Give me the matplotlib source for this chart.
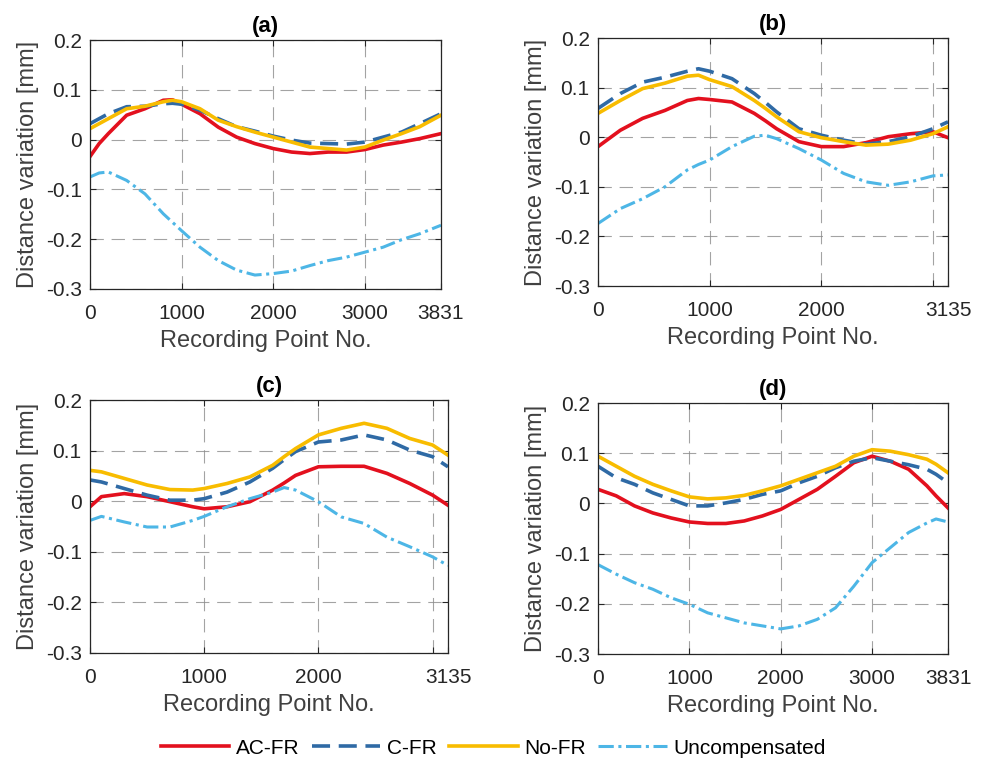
import matplotlib
matplotlib.use("Agg")
import matplotlib.pyplot as plt

plt.rcParams['font.family'] = ['Liberation Sans', 'DejaVu Sans']

# ---------------- data ----------------
x_a = [0, 100, 200, 400, 600, 800, 900, 1000, 1200, 1400, 1600, 1800, 2000, 2200, 2400, 2600, 2800, 3000, 3200, 3400, 3600, 3831]
acfr_a = [-0.034, -0.008, 0.012, 0.049, 0.062, 0.079, 0.080, 0.071, 0.052, 0.025, 0.005, -0.008, -0.018, -0.025, -0.028, -0.025, -0.025, -0.020, -0.011, -0.005, 0.002, 0.012]
cfr_a = [0.032, 0.042, 0.052, 0.066, 0.067, 0.072, 0.073, 0.071, 0.059, 0.042, 0.026, 0.017, 0.007, -0.001, -0.007, -0.008, -0.009, -0.005, 0.005, 0.015, 0.032, 0.052]
nofr_a = [0.022, 0.032, 0.042, 0.062, 0.067, 0.076, 0.079, 0.076, 0.062, 0.039, 0.026, 0.015, 0.005, -0.005, -0.015, -0.018, -0.021, -0.015, -0.001, 0.012, 0.026, 0.049]
unc_a = [-0.075, -0.067, -0.065, -0.082, -0.109, -0.149, -0.166, -0.183, -0.216, -0.243, -0.262, -0.272, -0.269, -0.264, -0.253, -0.243, -0.236, -0.226, -0.216, -0.201, -0.189, -0.172]

x_b = [0, 200, 400, 600, 800, 900, 1000, 1200, 1400, 1500, 1600, 1800, 2000, 2200, 2400, 2600, 2800, 3000, 3135]
acfr_b = [-0.019, 0.014, 0.038, 0.054, 0.074, 0.078, 0.076, 0.071, 0.048, 0.033, 0.017, -0.009, -0.019, -0.019, -0.011, 0.001, 0.007, 0.011, -0.001]
cfr_b = [0.058, 0.088, 0.111, 0.121, 0.133, 0.138, 0.133, 0.118, 0.088, 0.070, 0.051, 0.017, 0.004, -0.006, -0.014, -0.009, 0.001, 0.017, 0.031]
nofr_b = [0.048, 0.074, 0.098, 0.109, 0.123, 0.125, 0.116, 0.102, 0.074, 0.058, 0.041, 0.011, -0.001, -0.009, -0.016, -0.014, -0.006, 0.007, 0.021]
unc_b = [-0.174, -0.144, -0.124, -0.100, -0.066, -0.055, -0.046, -0.019, 0.002, 0.004, -0.003, -0.023, -0.046, -0.073, -0.090, -0.097, -0.090, -0.078, -0.076]

x_c = [0, 100, 300, 500, 700, 900, 1000, 1200, 1400, 1600, 1700, 1800, 2000, 2200, 2400, 2600, 2800, 3000, 3135]
acfr_c = [-0.011, 0.009, 0.015, 0.009, -0.001, -0.011, -0.015, -0.011, -0.001, 0.022, 0.036, 0.051, 0.068, 0.069, 0.069, 0.055, 0.035, 0.012, -0.008]
cfr_c = [0.042, 0.038, 0.025, 0.012, 0.002, 0.002, 0.005, 0.018, 0.038, 0.065, 0.082, 0.098, 0.117, 0.121, 0.131, 0.121, 0.101, 0.088, 0.068]
nofr_c = [0.061, 0.058, 0.045, 0.032, 0.023, 0.022, 0.025, 0.035, 0.048, 0.071, 0.088, 0.104, 0.131, 0.144, 0.154, 0.144, 0.124, 0.111, 0.091]
unc_c = [-0.038, -0.030, -0.041, -0.051, -0.051, -0.038, -0.030, -0.011, 0.005, 0.018, 0.027, 0.022, -0.001, -0.031, -0.044, -0.071, -0.090, -0.110, -0.127]

x_d = [0, 200, 400, 600, 800, 1000, 1200, 1400, 1600, 1800, 2000, 2200, 2400, 2600, 2800, 3000, 3200, 3400, 3600, 3700, 3831]
acfr_d = [0.028, 0.015, -0.005, -0.019, -0.029, -0.037, -0.040, -0.040, -0.035, -0.025, -0.012, 0.008, 0.028, 0.054, 0.081, 0.094, 0.084, 0.068, 0.035, 0.015, -0.009]
cfr_d = [0.074, 0.051, 0.038, 0.021, 0.008, -0.005, -0.005, 0.001, 0.008, 0.018, 0.025, 0.041, 0.054, 0.071, 0.084, 0.091, 0.084, 0.077, 0.068, 0.058, 0.041]
nofr_d = [0.094, 0.074, 0.054, 0.038, 0.025, 0.013, 0.009, 0.011, 0.016, 0.025, 0.035, 0.048, 0.061, 0.074, 0.094, 0.107, 0.104, 0.097, 0.088, 0.078, 0.061]
unc_d = [-0.122, -0.141, -0.158, -0.171, -0.188, -0.201, -0.218, -0.228, -0.238, -0.244, -0.250, -0.244, -0.231, -0.208, -0.165, -0.118, -0.088, -0.058, -0.039, -0.031, -0.037]

panels = [
    ("(a)", x_a, acfr_a, cfr_a, nofr_a, unc_a, 3831),
    ("(b)", x_b, acfr_b, cfr_b, nofr_b, unc_b, 3135),
    ("(c)", x_c, acfr_c, cfr_c, nofr_c, unc_c, 3135),
    ("(d)", x_d, acfr_d, cfr_d, nofr_d, unc_d, 3831),
]
series_names = ["AC-FR", "C-FR", "No-FR", "Uncompensated"]
y_ticks = [0.2, 0.1, 0, -0.1, -0.2, -0.3]
y_tick_labels = ["0.2", "0.1", "0", "-0.1", "-0.2", "-0.3"]

# ---------------- style ----------------
W, H = 986, 762
fig = plt.figure(figsize=(W / 100, H / 100), dpi=100)
boxes = [(90, 40, 441, 289), (598, 38, 948, 286), (90, 400, 448, 653), (598, 403, 948, 654)]

c_red = "#E3101E"
c_blue = "#2F6AA5"
c_yel = "#F8BC00"
c_lb = "#4DB6E6"
axc = "#262626"

handles = None
for (title, xs, r, b, yl, u, xmax), (l, t, rr, bb) in zip(panels, boxes):
    ax = fig.add_axes([l / W, 1 - bb / H, (rr - l) / W, (bb - t) / H])
    h1, = ax.plot(xs, r, color=c_red, lw=2.6, solid_joinstyle='round')
    h2, = ax.plot(xs, b, color=c_blue, lw=2.6, dashes=(5, 2.4))
    h3, = ax.plot(xs, yl, color=c_yel, lw=2.6, solid_joinstyle='round')
    h4, = ax.plot(xs, u, color=c_lb, lw=2.2, dashes=(5, 1.5, 1, 1.5))
    handles = [h1, h2, h3, h4]
    ax.set_xlim(0, xmax)
    ax.set_ylim(-0.3, 0.2)
    if xmax == 3831:
        ax.set_xticks([0, 1000, 2000, 3000, 3831])
        ax.set_xticklabels(["0", "1000", "2000", "3000", "3831"])
    else:
        ax.set_xticks([0, 1000, 2000, 3000, 3135])
        ax.set_xticklabels(["0", "1000", "2000", "", "3135"])
    ax.set_yticks(y_ticks)
    ax.set_yticklabels(y_tick_labels)
    ax.grid(True, color="#8c8c8c", lw=0.8, dashes=(12, 7), alpha=0.8)
    ax.tick_params(direction='in', length=4, width=0.8, colors=axc, labelsize=15,
                   top=True, right=True)
    ax.tick_params(axis='x', pad=11)
    ax.tick_params(axis='y', pad=6)
    for s in ax.spines.values():
        s.set_color(axc)
        s.set_linewidth(0.9)
    ax.set_xlabel("Recording Point No.", fontsize=17, color="#404040", labelpad=5)
    ax.set_ylabel("Distance variation [mm]", fontsize=17, color="#404040", labelpad=5)
    ax.set_title(title, fontsize=16, fontweight='bold', pad=6)

fig.legend(handles, series_names, loc='center', bbox_to_anchor=(0.5, 1 - 748 / H),
           ncol=4, frameon=False, fontsize=15, handlelength=3.3, handletextpad=0.3,
           columnspacing=0.6)

fig.savefig("out.png", dpi=100)
